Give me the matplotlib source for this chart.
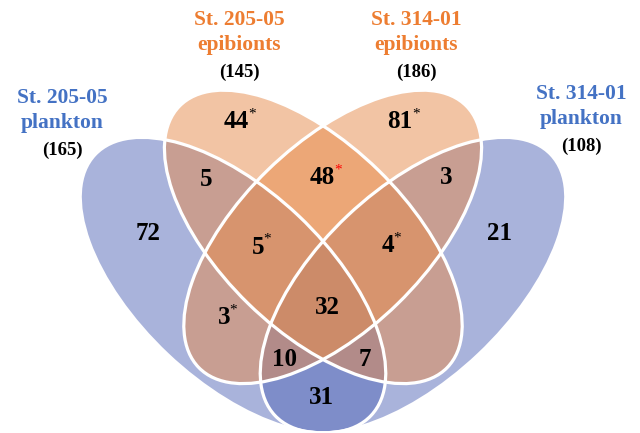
import matplotlib
matplotlib.use("Agg")
import matplotlib.pyplot as plt
from matplotlib.patches import Ellipse

#%% Data
set_names = ["St. 205-05\nplankton", "St. 205-05\nepibionts", "St. 314-01\nepibionts", "St. 314-01\nplankton"]
set_totals = [165, 145, 186, 108]

# region counts: A = 205 plankton, B = 205 epibionts, C = 314 epibionts, D = 314 plankton
region_keys = ["A", "B", "C", "D", "AB", "BC", "CD", "ABC", "BCD", "AC", "ABCD", "ACD", "ABD", "AD"]
region_counts = [72, 44, 81, 21, 5, 48, 3, 5, 4, 3, 32, 10, 7, 31]
region_star = ["", "*", "*", "", "", "r*", "", "*", "*", "*", "", "", "", ""]

#%% Layout (pixel coords of the picture)
mid = 646
ell_A = (233.0, 285.1, 189.9, 95.4, -136.6)
ell_B = (313.3, 236.9, 93.2, 187.1, 134.3)
ellipses = [ell_A, ell_B,
            (mid - ell_B[0], ell_B[1], ell_B[2], ell_B[3], 180 - ell_B[4]),
            (mid - ell_A[0], ell_A[1], ell_A[2], ell_A[3], 180 - ell_A[4])]
set_colors = ["#5569B9", "#E78B4B", "#E78B4B", "#5569B9"]
draw_order = [0, 3, 1, 2]

region_pos = {"A": (148, 233), "B": (236, 122), "C": (400, 122), "D": (499, 233),
              "AB": (206, 179), "BC": (322, 178), "CD": (446, 178),
              "ABC": (258, 247), "BCD": (388, 246), "AC": (224, 318),
              "ABCD": (327, 307), "ACD": (285, 359), "ABD": (365, 359), "AD": (321, 397)}

label_x = [62, 239, 416, 581]
label_y = [98, 20, 20, 94]
label_colors = ["#4472C4", "#ED7D31", "#ED7D31", "#4472C4"]

font = "Liberation Serif"

fig = plt.figure(figsize=(6.4, 4.33), dpi=100)
ax = fig.add_axes([0, 0, 1, 1])
ax.set_xlim(0, 640)
ax.set_ylim(433, 0)
ax.axis("off")

for i in draw_order:
    cx, cy, r1, r2, an = ellipses[i]
    ax.add_patch(Ellipse((cx, cy), 2 * r1, 2 * r2, angle=an, fc=set_colors[i], alpha=0.5, lw=0))
for cx, cy, r1, r2, an in ellipses:
    ax.add_patch(Ellipse((cx, cy), 2 * r1, 2 * r2, angle=an, fill=False, ec="white", lw=2.3))

for key, n, star in zip(region_keys, region_counts, region_star):
    x, y = region_pos[key]
    t = ax.text(x, y, str(n), family=font, weight="bold", fontsize=18,
                ha="center", va="center")
    if star:
        ax.annotate("*", xy=(1, 1), xycoords=t, xytext=(-0.5, 2), textcoords="offset points",
                    ha="left", va="top", family=font, fontsize=11,
                    color="red" if star.startswith("r") else "black")

for name, tot, x, y, col in zip(set_names, set_totals, label_x, label_y, label_colors):
    l1, l2 = name.split("\n")
    ax.text(x, y, l1, family=font, weight="bold", fontsize=15.5, color=col, ha="center", va="center")
    ax.text(x, y + 25, l2, family=font, weight="bold", fontsize=15.5, color=col, ha="center", va="center")
    ax.text(x, y + 52, f"({tot})", family=font, weight="bold", fontsize=13.5, color="black",
            ha="center", va="center")

fig.savefig("out.png", dpi=100)
